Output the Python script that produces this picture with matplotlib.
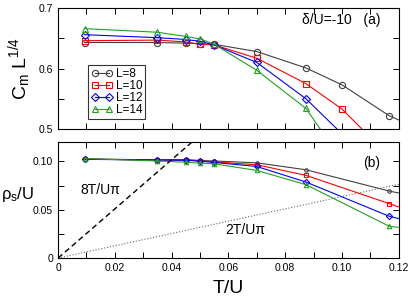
import matplotlib
matplotlib.use("Agg")
import matplotlib.pyplot as plt
import numpy as np
from matplotlib.ticker import MultipleLocator

plt.rcParams['font.family'] = ['Liberation Sans', 'DejaVu Sans']
plt.rcParams['mathtext.fontset'] = 'custom'
plt.rcParams['mathtext.rm'] = 'Liberation Sans'
plt.rcParams['mathtext.it'] = 'Liberation Sans:italic'

# temperatures T/U
T_top = [0.0093, 0.035, 0.045, 0.05, 0.055, 0.07, 0.0873, 0.1, 0.1166, 0.14]
T_bot = [0.0093, 0.035, 0.045, 0.05, 0.055, 0.07, 0.0873, 0.1166, 0.14]

labels = ["L=8", "L=10", "L=12", "L=14"]
colors = ["0.25", "red", "blue", "#22a022"]
markers = ["o", "s", "D", "^"]

# C_m L^{1/4}  (panel a)
cm_L8 = [0.643, 0.643, 0.642, 0.641, 0.640, 0.628, 0.601, 0.573, 0.522, 0.473]
cm_L10 = [0.646, 0.647, 0.644, 0.640, 0.639, 0.617, 0.575, 0.533, 0.455, 0.36]
cm_L12 = [0.656, 0.651, 0.648, 0.645, 0.639, 0.610, 0.550, 0.492, 0.41, 0.30]
cm_L14 = [0.666, 0.660, 0.653, 0.649, 0.640, 0.597, 0.534, 0.448, 0.37, 0.25]

# rho_s/U  (panel b)
rho_L8 = [0.1025, 0.1017, 0.1020, 0.1010, 0.1005, 0.0986, 0.0914, 0.0694, 0.055]
rho_L10 = [0.1025, 0.1015, 0.1015, 0.1005, 0.0995, 0.0966, 0.0856, 0.0564, 0.032]
rho_L12 = [0.1022, 0.1015, 0.1012, 0.1003, 0.0990, 0.0948, 0.0787, 0.0433, 0.026]
rho_L14 = [0.1030, 0.1005, 0.0992, 0.0982, 0.0976, 0.0907, 0.0760, 0.0330, 0.024]

cm_all = [cm_L8, cm_L10, cm_L12, cm_L14]
rho_all = [rho_L8, rho_L10, rho_L12, rho_L14]

fig = plt.figure(figsize=(4.15, 2.98), dpi=100)
ax1 = fig.add_axes([0.140, 0.567, 0.821, 0.406])
ax2 = fig.add_axes([0.140, 0.134, 0.821, 0.389])

for i in range(4):
    ax1.plot(T_top, cm_all[i], color=colors[i], marker=markers[i],
             mfc='none', mew=0.8, lw=0.8, label=labels[i],
             markersize=4.5 if markers[i] != "D" else 3.8)
    ax2.plot(T_bot, rho_all[i], color=colors[i], marker=markers[i],
             mfc='none', mew=0.8, lw=0.8,
             markersize=3.2 if markers[i] != "o" else 2.5)

tt = np.array([0.0, 0.12])
ax2.plot(tt, 8 * tt / np.pi, 'k--', lw=1.0, dashes=(4, 2.5))
ax2.plot(tt, 2 * tt / np.pi, color='0.4', ls=':', lw=0.8)

for ax in (ax1, ax2):
    ax.set_xlim(0, 0.12)
    ax.xaxis.set_major_locator(MultipleLocator(0.02))
    ax.xaxis.set_minor_locator(MultipleLocator(0.01))
    ax.tick_params(which='both', direction='in', top=True, right=True,
                   labelsize=7.5)
    ax.tick_params(which='major', length=4, width=0.7)
    ax.tick_params(which='minor', length=4, width=0.7)
    for s in ax.spines.values():
        s.set_linewidth(0.8)

ax1.set_ylim(0.5, 0.7)
ax1.yaxis.set_minor_locator(MultipleLocator(0.05))
ax1.set_xticklabels([])
ax1.set_yticks([0.5, 0.6, 0.7])
ax1.set_yticklabels(["0.5", "0.6", "0.7"])
ax1.set_ylabel(r"C$_{\rm m}$ L$^{\rm 1/4}$", fontsize=14, labelpad=4)
ax1.text(0.1135, 0.681, "δ/U=-10   (a)", ha='right', va='center', fontsize=10)
leg = ax1.legend(loc='upper left', bbox_to_anchor=(0.088, 0.53), fontsize=8.5,
                 frameon=True, fancybox=False, edgecolor='black', handlelength=1.8,
                 numpoints=2, borderpad=0.25, labelspacing=0.0,
                 handletextpad=0.3, borderaxespad=0)
leg.get_frame().set_linewidth(0.8)

ax2.set_ylim(0, 0.12)
ax2.yaxis.set_minor_locator(MultipleLocator(0.025))
ax2.set_yticks([0, 0.05, 0.10])
ax2.set_yticklabels(["0", "0.05", "0.10"])
ax2.set_xticks([0, 0.02, 0.04, 0.06, 0.08, 0.10, 0.12])
ax2.set_xticklabels(["0", "0.02", "0.04", "0.06", "0.08", "0.10", "0.12"])
ax2.set_ylabel(r"ρ$_{\rm s}$/U", fontsize=12, rotation=0, ha='center', va='center')
ax2.yaxis.set_label_coords(-0.12, 0.55)
ax2.set_xlabel("T/U", fontsize=14, labelpad=5)
ax2.text(0.1135, 0.098, "(b)", ha='right', va='center', fontsize=10)
ax2.text(0.008, 0.070, "8T/Uπ", fontsize=10, va='center')
ax2.text(0.059, 0.029, "2T/Uπ", fontsize=10, va='center')

fig.savefig("out.png", dpi=100)
